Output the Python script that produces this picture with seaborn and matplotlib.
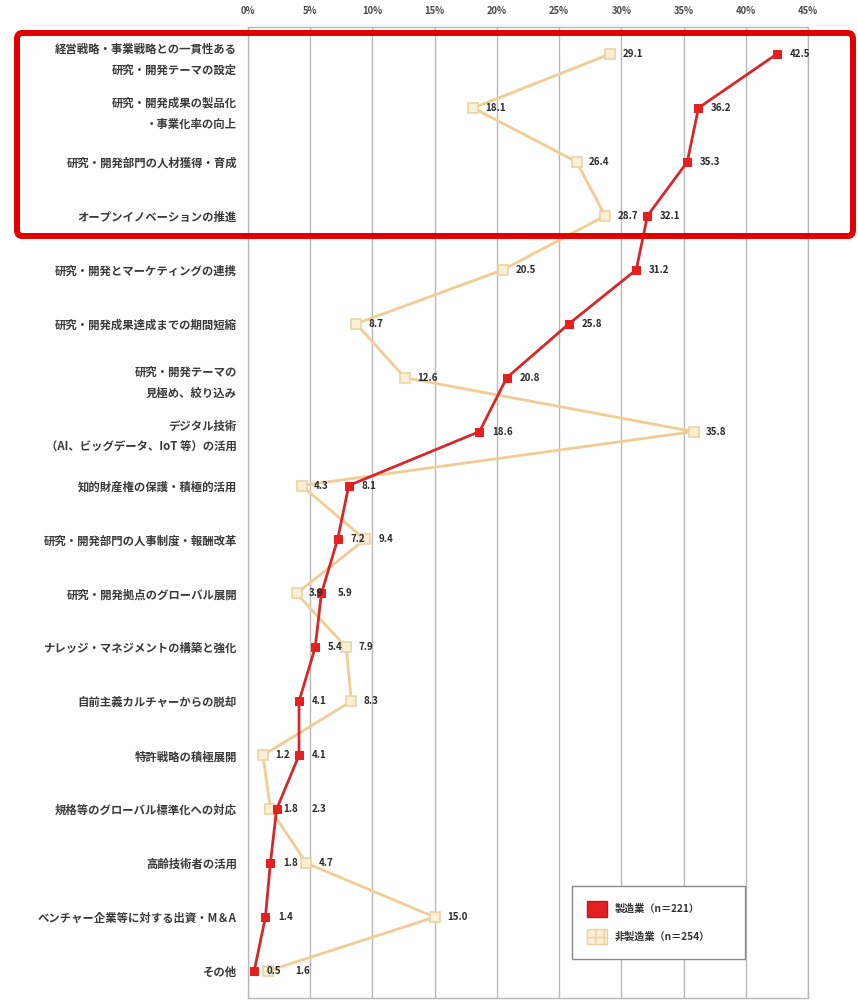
import matplotlib
matplotlib.use("Agg")
import matplotlib.pyplot as plt
import seaborn as sns
import numpy as np
import pandas as pd
from matplotlib.patches import Patch, FancyBboxPatch

# 研究開発の課題（複数回答）
categories = [
    "経営戦略・事業戦略との一貫性ある\n研究・開発テーマの設定",
    "研究・開発成果の製品化\n・事業化率の向上",
    "研究・開発部門の人材獲得・育成",
    "オープンイノベーションの推進",
    "研究・開発とマーケティングの連携",
    "研究・開発成果達成までの期間短縮",
    "研究・開発テーマの\n見極め、絞り込み",
    "デジタル技術\n（AI、ビッグデータ、IoT 等）の活用",
    "知的財産権の保護・積極的活用",
    "研究・開発部門の人事制度・報酬改革",
    "研究・開発拠点のグローバル展開",
    "ナレッジ・マネジメントの構築と強化",
    "自前主義カルチャーからの脱却",
    "特許戦略の積極展開",
    "規格等のグローバル標準化への対応",
    "高齢技術者の活用",
    "ベンチャー企業等に対する出資・M＆A",
    "その他",
]
manufacturing = [42.5, 36.2, 35.3, 32.1, 31.2, 25.8, 20.8, 18.6, 8.1, 7.2,
                 5.9, 5.4, 4.1, 4.1, 2.3, 1.8, 1.4, 0.5]
non_manufacturing = [29.1, 18.1, 26.4, 28.7, 20.5, 8.7, 12.6, 35.8, 4.3, 9.4,
                     3.9, 7.9, 8.3, 1.2, 1.8, 4.7, 15.0, 1.6]
series_names = ["製造業（n＝221）", "非製造業（n＝254）"]
x_ticks = list(range(0, 46, 5))
x_tick_labels = [f"{t}%" for t in x_ticks]

sns.set_theme(style="white")
plt.rcParams["font.family"] = ["Noto Sans CJK JP", "DejaVu Sans"]

RED = "#d8262b"
RED_MK = "#e3201f"
TAN = "#f1cc93"
TAN_FILL = "#fbefd6"

fig = plt.figure(figsize=(8.58, 10), dpi=100)
ax = fig.add_axes([248 / 858, 0.002, 560 / 858, 0.971])

pos = np.arange(len(categories))
df = pd.DataFrame({"pos": pos, "manu": manufacturing, "non": non_manufacturing})

sns.lineplot(data=df, x="non", y="pos", orient="y", sort=False, ax=ax,
             color=TAN, lw=2.0, marker="s", markersize=7,
             markerfacecolor=TAN_FILL, markeredgecolor="#ecd3a5",
             markeredgewidth=1.2, zorder=3)
sns.lineplot(data=df, x="manu", y="pos", orient="y", sort=False, ax=ax,
             color=RED, lw=2.0, marker="s", markersize=6,
             markerfacecolor=RED_MK, markeredgecolor=RED_MK, zorder=4)

ax.set_xlim(0, 45)
ax.set_ylim(len(categories) - 0.5, -0.5)
ax.set_xticks(x_ticks, x_tick_labels)
ax.xaxis.tick_top()
ax.tick_params(axis="x", length=0, pad=8, labelsize=6.8, colors="#4a4a4a")
for lbl in ax.get_xticklabels():
    lbl.set_fontweight("bold")
ax.set_yticks(pos, categories)
ax.tick_params(axis="y", length=0, pad=8, labelsize=8.2, colors="#3a3a3a")
for lbl in ax.get_yticklabels():
    lbl.set_linespacing(1.8)
    lbl.set_fontweight("bold")
ax.set_xlabel("")
ax.set_ylabel("")
ax.grid(axis="x", color="#b8b8b8", lw=1.0)
ax.grid(axis="y", visible=False)
ax.set_axisbelow(True)
for sp in ax.spines.values():
    sp.set_color("#b8b8b8")
    sp.set_linewidth(1.0)

# value labels to the right of each marker, nudged apart when close
gap = 1.0
label_w = 2.3
for i, (m, n) in enumerate(zip(manufacturing, non_manufacturing)):
    pair = sorted([(m, "m"), (n, "n")])
    first_x = pair[0][0] + gap
    second_x = max(pair[1][0] + gap, first_x + label_w)
    for (v, _), tx in zip(pair, [first_x, second_x]):
        ax.text(tx, i, f"{v:.1f}", ha="left", va="center", fontsize=7,
                fontweight="bold", color="#2a2a2a", zorder=5)

handles = [
    Patch(facecolor=RED_MK, edgecolor="#c0181a"),
    Patch(facecolor=TAN_FILL, edgecolor="#efcf9c", hatch="++"),
]
leg = fig.legend(handles, series_names, loc="upper left",
                 bbox_to_anchor=(572 / 858, 1 - 968 / 1000, 173 / 858, 82 / 1000),
                 mode="expand", borderaxespad=0, fontsize=7.3, handlelength=2.0,
                 handleheight=2.0, handletextpad=0.7, labelspacing=1.15,
                 borderpad=1.5, fancybox=False, framealpha=1,
                 edgecolor="#8a8a8a", labelcolor="#333333")
for t in leg.get_texts():
    t.set_fontweight("bold")

# highlight frame around the top four items
box = FancyBboxPatch((17 / 858, 1 - 236 / 1000), 836 / 858, 203 / 1000,
                     boxstyle="round,pad=0,rounding_size=0.006",
                     transform=fig.transFigure, fill=False,
                     edgecolor="#e00000", linewidth=4.3, zorder=10)
fig.add_artist(box)

fig.savefig("out.png", dpi=100)
